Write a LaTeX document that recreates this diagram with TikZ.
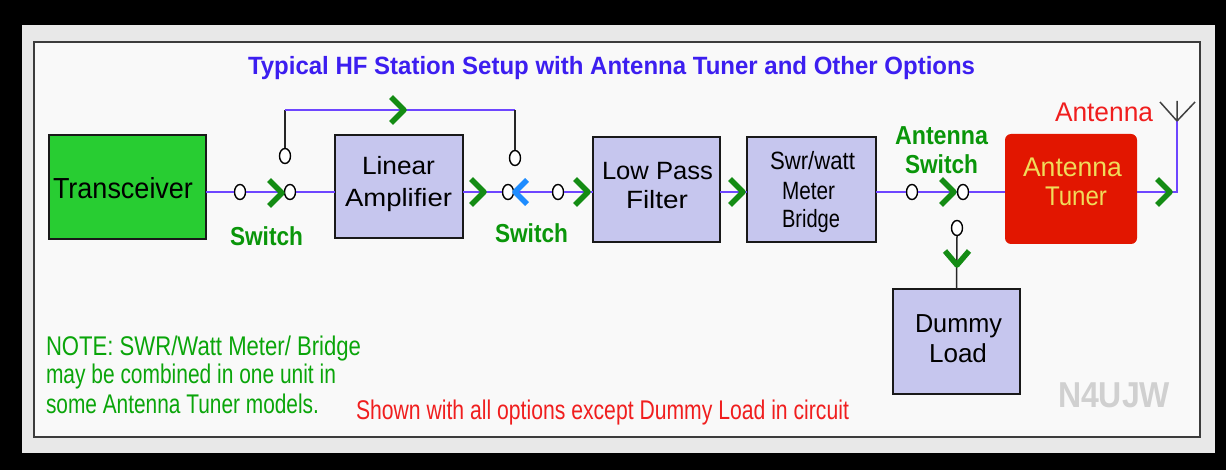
\documentclass[tikz,border=0pt]{standalone}
\usepackage{fontspec}
\setmainfont{Liberation Sans}
\usepackage{graphicx}
\usetikzlibrary{shapes.geometric}
\definecolor{panelgray}{RGB}{232,232,232}
\definecolor{innerbg}{RGB}{249,249,249}
\definecolor{bordercol}{RGB}{60,60,60}
\definecolor{titleblue}{RGB}{60,30,240}
\definecolor{wireblue}{RGB}{110,70,255}
\definecolor{arrgreen}{RGB}{20,140,20}
\definecolor{arrblue}{RGB}{30,140,255}
\definecolor{labgreen}{RGB}{10,150,10}
\definecolor{notegreen}{RGB}{10,165,10}
\definecolor{xcvrgreen}{RGB}{40,205,50}
\definecolor{lav}{RGB}{198,198,238}
\definecolor{tunred}{RGB}{226,22,0}
\definecolor{tunyellow}{RGB}{240,220,90}
\definecolor{antred}{RGB}{240,30,30}
\definecolor{callgray}{RGB}{208,208,208}
\newcommand{\fw}[2]{\resizebox{#1pt}{\height}{#2}}
\tikzset{
  wire/.style={draw=wireblue, line width=2pt},
  blk/.style={draw=black!85, line width=1.5pt},
  box/.style={draw=black!90, line width=2pt, fill=lav, inner sep=0pt, outer sep=0pt},
  contact/.style={ellipse, draw=black, line width=1.4pt, fill=white, minimum width=11pt, minimum height=15pt, inner sep=0pt},
  txt/.style={anchor=base west, inner sep=0pt, outer sep=0pt},
  boxtxt/.style={txt, font=\fontsize{25}{30}\selectfont, text=black},
  swlab/.style={txt, font=\fontsize{26}{30}\selectfont\bfseries, text=labgreen},
  notetxt/.style={txt, font=\fontsize{27}{30}\selectfont},
  chev/.style={draw=arrgreen, line width=5.5pt, line join=round},
  chevR/.pic={\path[chev] (-13,-13) -- (0,0) -- (-13,13);},
  chevD/.pic={\path[chev] (-12,-14) -- (0,0) -- (12,-14);},
  chevLb/.pic={\path[chev, draw=arrblue] (12,-12) -- (0,0) -- (12,12);}
}
\begin{document}
\begin{tikzpicture}[x=1pt,y=-1pt]
\useasboundingbox (0,0) rectangle (1226,470);
\fill[black] (0,0) rectangle (1226,470);
\fill[panelgray] (22,25) rectangle (1215,453);
\draw[bordercol, line width=2pt, fill=innerbg] (34,42) rectangle (1200,437);

% title
\node[txt, font=\fontsize{25}{30}\selectfont\bfseries, text=titleblue] (title) at (248,75) {\fw{727}{Typical HF Station Setup with Antenna Tuner and Other Options}};

% boxes
\node[box, fill=xcvrgreen, minimum width=157pt, minimum height=104pt] (xcvr) at (127.5,187) {};
\node[box, minimum width=128pt, minimum height=103pt] (amp) at (399,186.5) {};
\node[box, minimum width=127pt, minimum height=105pt] (lpf) at (656.5,189.5) {};
\node[box, minimum width=129pt, minimum height=105pt] (swr) at (811.5,189.5) {};
\node[fill=tunred, rounded corners=6pt, inner sep=0pt, outer sep=0pt, minimum width=132pt, minimum height=110pt] (tuner) at (1071,189) {};
\node[box, minimum width=127pt, minimum height=105pt] (dummy) at (956.5,341.5) {};

% contacts
\node[contact] (c1) at (240,192) {};
\node[contact] (c2) at (290,192) {};
\node[contact] (c3) at (285,156) {};
\node[contact] (c4) at (508,192) {};
\node[contact] (c5) at (515,158) {};
\node[contact] (c6) at (558,192) {};
\node[contact] (c7) at (912,192) {};
\node[contact] (c8) at (963,192) {};
\node[contact] (c9) at (957,228) {};
\coordinate (b1) at (285,110);
\coordinate (b2) at (515,110);
\coordinate (mast) at (1177,192);
\coordinate (anttop) at (1177,121);

% wires
\draw[wire] (xcvr.east |- c1) -- (c1.west);
\draw[wire] (c1.east) -- (c2.west);
\draw[wire] (c2.east) -- (amp.west |- c2);
\draw[blk] (c3.north) -- (b1);
\draw[wire] (b1) -- (b2);
\draw[blk] (b2) -- (c5.north);
\draw[wire] (amp.east |- c4) -- (c4.west);
\draw[wire] (c4.east) -- (c6.west);
\draw[wire] (c6.east) -- (lpf.west |- c6);
\draw[wire] (lpf.east |- c6) -- (swr.west |- c6);
\draw[wire] (swr.east |- c7) -- (c7.west);
\draw[wire] (c7.east) -- (c8.west);
\draw[wire] (c8.east) -- (tuner.west |- c8);
\draw[wire] (tuner.east |- c8) -- (mast) -- (anttop);
\draw[blk] (c9.south) -- (dummy.north);
% antenna symbol
\draw[draw=black!75, line width=1.5pt] (anttop) -- (1160,102) (anttop) -- (1177,101) (anttop) -- (1195,102);

% chevron arrows
\pic at (282,193) {chevR};
\pic at (404,110) {chevR};
\pic at (484,192) {chevR};
\pic at (515,192) {chevLb};
\pic at (588,192) {chevR};
\pic at (743,192) {chevR};
\pic at (954,192) {chevR};
\pic at (957,265) {chevD};
\pic at (1170,192) {chevR};

% box texts
\node[boxtxt, font=\fontsize{29}{30}\selectfont] (t1) at (53,199) {\fw{140}{Transceiver}};
\node[boxtxt] (t2) at (362,175) {\fw{73}{Linear}};
\node[boxtxt] (t3) at (345,207) {\fw{107}{Amplifier}};
\node[boxtxt] (t4) at (602,180) {\fw{111}{Low Pass}};
\node[boxtxt] (t5) at (626,209) {\fw{62}{Filter}};
\node[boxtxt] (t6) at (770,170) {\fw{85}{Swr/watt}};
\node[boxtxt] (t7) at (782,200) {\fw{53}{Meter}};
\node[boxtxt] (t8) at (782,228) {\fw{58}{Bridge}};
\node[boxtxt, font=\fontsize{27}{30}\selectfont, text=tunyellow] (t9) at (1023,177) {\fw{99}{Antenna}};
\node[boxtxt, font=\fontsize{27}{30}\selectfont, text=tunyellow] (t10) at (1045,206) {\fw{62}{Tuner}};
\node[boxtxt, font=\fontsize{26}{30}\selectfont] (t11) at (915,332) {\fw{87}{Dummy}};
\node[boxtxt, font=\fontsize{26}{30}\selectfont] (t12) at (929,362) {\fw{58}{Load}};

% switch labels
\node[swlab] (s1) at (230,246) {\fw{73}{Switch}};
\node[swlab] (s2) at (495,243) {\fw{73}{Switch}};
\node[swlab] (s3) at (895,145) {\fw{93}{Antenna}};
\node[swlab] (s4) at (905,174) {\fw{73}{Switch}};
\node[txt, font=\fontsize{27}{30}\selectfont, text=antred] (antlab) at (1055,122) {\fw{98}{Antenna}};

% notes
\node[notetxt, text=notegreen] (n1) at (46,355) {\fw{315}{NOTE: SWR/Watt Meter/ Bridge}};
\node[notetxt, text=notegreen] (n2) at (46,383) {\fw{290}{may be combined in one unit in}};
\node[notetxt, text=notegreen] (n3) at (46,413) {\fw{273}{some Antenna Tuner models.}};
\node[notetxt, text=antred] (n4) at (356,419) {\fw{493}{Shown with all options except Dummy Load in circuit}};
\node[txt, font=\fontsize{36}{40}\selectfont\bfseries, text=callgray] (call) at (1058,407) {\fw{112}{N4UJW}};
\end{tikzpicture}
\end{document}
